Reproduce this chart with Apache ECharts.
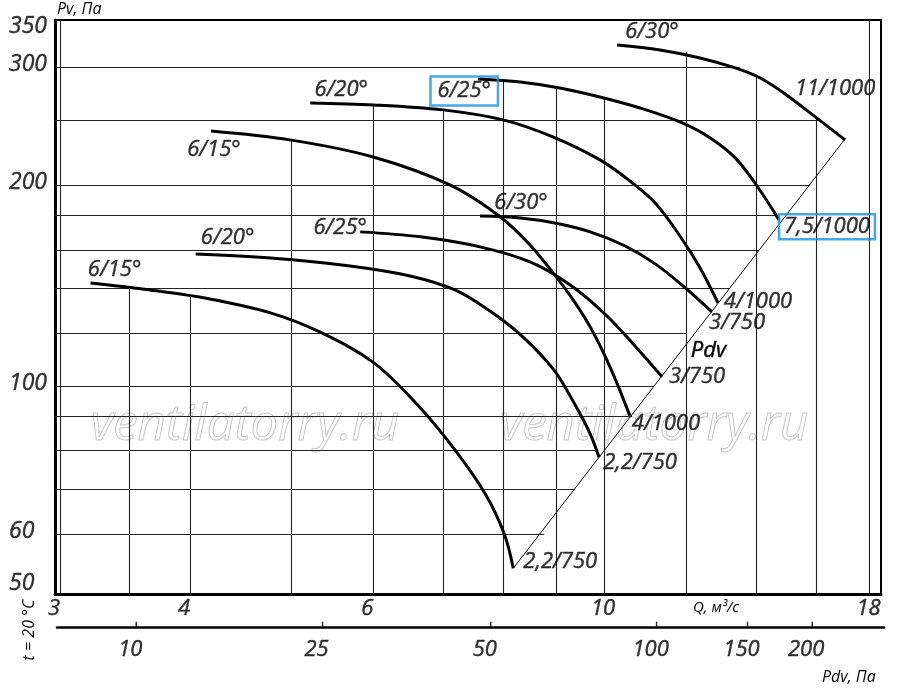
<!DOCTYPE html>
<html>
<head>
<meta charset="utf-8">
<title>Pv - Q</title>
<script src="https://cdn.jsdelivr.net/npm/echarts@6/dist/echarts.min.js"></script>
<style>
  html, body { margin: 0; padding: 0; background: #fff; }
  #main { width: 900px; height: 690px; }
</style>
</head>
<body>
<div id="main"></div>
<script>
// Q, м3/с and Pv, Па, one pair of arrays per curve
var qA = [3.21, 3.66, 4.18, 4.78, 5.33, 6.01, 6.66, 7.19, 7.69, 8.02, 8.18];
var pA = [142.7, 139.3, 135.0, 128.7, 120.5, 108.3, 92.7, 80.2, 68.9, 60.0, 53.3];
var qB = [4.05, 4.78, 5.70, 6.51, 7.19, 7.77, 8.36, 8.95, 9.38, 9.70, 9.89];
var pB = [157.7, 155.5, 151.3, 146.2, 139.3, 129.5, 118.4, 105.7, 93.7, 84.7, 78.2];
var qC = [5.83, 6.66, 7.60, 8.49, 9.28, 10.02, 10.71, 11.37];
var pC = [170.2, 167.3, 161.6, 153.4, 141.7, 128.2, 114.8, 103.2];
var qD = [7.60, 8.31, 8.97, 9.70, 10.48, 11.20, 11.97, 12.70];
var pD = [179.8, 178.6, 175.5, 170.2, 162.1, 152.4, 140.3, 129.1];
var qE = [4.19, 4.99, 6.00, 7.11, 7.95, 8.49, 9.01, 9.34, 9.70, 10.00, 10.29, 10.59];
var pE = [241.1, 233.8, 220.4, 200.1, 179.2, 162.7, 145.2, 134.6, 122.6, 111.7, 101.0, 90.2];
var qF = [5.22, 6.01, 7.00, 8.00, 8.93, 9.91, 10.59, 11.20, 11.83, 12.37, 12.87];
var pF = [265.6, 263.8, 259.3, 250.5, 236.2, 218.2, 202.9, 188.1, 167.8, 150.3, 133.2];
var qG = [7.57, 8.31, 9.07, 9.91, 10.83, 11.83, 12.65, 13.37, 14.03, 14.73];
var pG = [288.5, 285.6, 279.7, 271.1, 261.0, 248.7, 235.4, 219.7, 199.4, 177.4];
var qH = [10.29, 11.32, 12.37, 13.37, 14.13, 14.93, 15.96, 17.05];
var pH = [324.5, 318.9, 310.2, 299.7, 289.5, 274.0, 253.1, 233.8];

var startNames = ['6/15°', '6/20°', '6/25°', '6/30°', '6/15°', '6/20°', '6/25°', '6/30°'];
var endNames = ['2,2/750', '2,2/750', '3/750', '3/750', '4/1000', '4/1000', '7,5/1000', '11/1000'];

// Pdv line (system line through the curve ends)
var qPdv = [8.18, 17.05];
var pPdv = [53.3, 234.6];

// grid lines: verticals run up from the bottom, horizontals run right from the left edge
var vGridQ = [3, 3.5, 4, 5, 6, 7, 8, 9, 10, 12, 14, 16, 18];
var vGridTop = [353.6, 140, 137, 234, 264, 259, 287, 279, 270, 317, 292, 251, 353.6];
var hGridPv = [60, 70, 80, 90, 100, 120, 140, 160, 180, 200, 250, 300];
var hGridEnd = [8.76, 9.38, 9.87, 10.64, 11.17, 12.0, 13.2, 14.1, 14.64, 15.77, 16.05, 13.5];

// tick labels
var xTicks = [3, 4, 6, 10, 18];
var yTicks = [50, 60, 100, 200, 300, 350];
var pdvTickPos = [10, 22.8, 48, 100, 149.5, 199];
var pdvTickLabels = ['10', '25', '50', '100', '150', '200'];

var X_MIN = 2.967, X_MAX = 18.46, Y_MIN = 48.66, Y_MAX = 353.6;
var PDV_MIN = 7.04, PDV_MAX = 273.5;

var curveQ = [qA, qB, qC, qD, qE, qF, qG, qH];
var curvePv = [pA, pB, pC, pD, pE, pF, pG, pH];

// label placement relative to the curve ends, pixels
var startOffset = [[24, -13], [32, -16], [-20, -4], [41, -13], [3, 19], [31, -13], [-14, 12], [35, -13]];
var endOffset = [[47, -7], [41, 6], [35, 0], [25, 11], [36, 8], [40, -1], [48, 7], [-10, -51]];
var boxedCurve = 6;
var BLUE = '#1a8fe0';
var FONT = 'Open Sans';

function txt(size) {
    return { fontFamily: FONT, fontStyle: 'italic', fontSize: size, color: '#000',
             textBorderColor: '#000', textBorderWidth: 0.4 };
}

var series = [];

// grid lines + Pdv line
var gridLines = [];
for (var i = 0; i < vGridQ.length; i++) {
    gridLines.push([{ coord: [vGridQ[i], Y_MIN] }, { coord: [vGridQ[i], vGridTop[i]] }]);
}
for (i = 0; i < hGridPv.length; i++) {
    gridLines.push([{ coord: [X_MIN, hGridPv[i]] }, { coord: [hGridEnd[i], hGridPv[i]] }]);
}

series.push({
    name: 'Pdv',
    type: 'line',
    data: qPdv.map(function (q, k) { return [q, pPdv[k]]; }),
    symbol: 'none',
    lineStyle: { color: '#000', width: 1 },
    silent: true,
    z: 3,
    markLine: {
        silent: true,
        symbol: ['none', 'none'],
        label: { show: false },
        lineStyle: { color: '#222', width: 1.1, type: 'solid' },
        emphasis: { disabled: true },
        data: gridLines
    },
    markPoint: {
        silent: true,
        symbol: 'circle',
        symbolSize: 0,
        data: [{ coord: [12.6, 113], value: 0 }],
        label: Object.assign({ show: true, formatter: 'Pdv', position: 'inside' }, txt(22))
    }
});

// fan curves
for (i = 0; i < curveQ.length; i++) {
    series.push({
        type: 'line',
        data: curveQ[i].map(function (q, k) { return [q, this[k]]; }, curvePv[i]),
        smooth: 0.35,
        symbol: 'none',
        lineStyle: { color: '#000', width: 3 },
        silent: true,
        z: 5
    });
}

// curve labels at both ends
var labelData = [];
for (i = 0; i < curveQ.length; i++) {
    var n = curveQ[i].length - 1;
    var lbS = Object.assign({ show: true, formatter: startNames[i], position: 'inside', offset: startOffset[i] }, txt(22));
    var lbE = Object.assign({ show: true, formatter: endNames[i], position: 'inside', offset: endOffset[i] }, txt(22));
    if (i === boxedCurve) {
        Object.assign(lbS, { borderColor: BLUE, borderWidth: 2.5, padding: [4, 7, 3, 7] });
        Object.assign(lbE, { borderColor: BLUE, borderWidth: 2.5, padding: [2, 5, 1, 5] });
    }
    labelData.push({ value: [curveQ[i][0], curvePv[i][0]], label: lbS });
    labelData.push({ value: [curveQ[i][n], curvePv[i][n]], label: lbE });
}
series.push({
    type: 'scatter',
    data: labelData,
    symbolSize: 0,
    silent: true,
    clip: false,
    z: 6
});

// x tick labels
series.push({
    type: 'scatter',
    data: xTicks.map(function (v) {
        return {
            value: [v, Y_MIN],
            label: Object.assign({ show: true, formatter: String(v), position: 'bottom', distance: 3,
                offset: [String(v).length > 1 ? -1 : -6, 0] }, txt(22))
        };
    }),
    symbolSize: 0,
    silent: true,
    clip: false
});

// y tick labels
series.push({
    type: 'scatter',
    data: yTicks.map(function (v) {
        return {
            value: [X_MIN, v],
            label: Object.assign({ show: true, formatter: String(v), position: 'left', distance: 46,
                align: 'left', verticalAlign: 'middle', offset: [0, v === 350 ? 3 : -3] }, txt(23))
        };
    }),
    symbolSize: 0,
    silent: true,
    clip: false
});

// Pdv scale ticks
series.push({
    type: 'scatter',
    xAxisIndex: 1,
    yAxisIndex: 1,
    data: pdvTickPos.map(function (v, k) {
        return {
            value: [v, 0],
            label: Object.assign({ show: true, formatter: pdvTickLabels[k], position: 'bottom', distance: 11,
                offset: [-6, 0] }, txt(22))
        };
    }),
    symbol: 'rect',
    symbolSize: [1.5, 6],
    symbolOffset: [0, -3],
    itemStyle: { color: '#000' },
    silent: true,
    clip: false
});

var myChart = echarts.init(document.getElementById('main'));

var option = {
    animation: false,
    backgroundColor: '#fff',
    grid: [
        { left: 55, right: 19, top: 20, bottom: 95.3, show: true, borderColor: '#000', borderWidth: 2 },
        { left: 57, right: 16, top: 612, height: 15.7 }
    ],
    xAxis: [
        {
            type: 'log', gridIndex: 0, min: X_MIN, max: X_MAX,
            axisLine: { show: true, onZero: false, lineStyle: { color: '#000', width: 3 } },
            axisTick: { show: false }, axisLabel: { show: false }, splitLine: { show: false }
        },
        {
            type: 'log', gridIndex: 1, min: PDV_MIN, max: PDV_MAX,
            axisLine: { show: true, onZero: false, lineStyle: { color: '#000', width: 2.5 } },
            axisTick: { show: false }, axisLabel: { show: false }, splitLine: { show: false }
        }
    ],
    yAxis: [
        {
            type: 'log', gridIndex: 0, min: Y_MIN, max: Y_MAX,
            axisLine: { show: true, onZero: false, lineStyle: { color: '#000', width: 3 } },
            axisTick: { show: false }, axisLabel: { show: false }, splitLine: { show: false }
        },
        { type: 'value', gridIndex: 1, min: 0, max: 1, show: false }
    ],
    graphic: [
        { type: 'text', x: 245, y: 426, silent: true, z: 1,
          style: { text: 'ventilatorry.ru', font: 'italic 49px "Open Sans"', fill: 'none', stroke: '#c8c8c8', lineWidth: 1, align: 'center', verticalAlign: 'middle' } },
        { type: 'text', x: 654, y: 426, silent: true, z: 1,
          style: { text: 'ventilatorry.ru', font: 'italic 49px "Open Sans"', fill: 'none', stroke: '#c8c8c8', lineWidth: 1, align: 'center', verticalAlign: 'middle' } },
        { type: 'text', x: 57, y: 1, silent: true,
          style: { text: 'Pv, Па', font: 'italic 16px "Open Sans"', fill: '#000' } },
        { type: 'text', x: 693, y: 600, silent: true,
          style: { text: 'Q, м³/с', font: 'italic 15px "Open Sans"', fill: '#000' } },
        { type: 'text', x: 822, y: 669, silent: true,
          style: { text: 'Pdv, Па', font: 'italic 16px "Open Sans"', fill: '#000' } },
        { type: 'text', x: 29, y: 630, rotation: Math.PI / 2, silent: true,
          style: { text: 't = 20 °C', font: 'italic 16px "Open Sans"', fill: '#000', align: 'center', verticalAlign: 'middle' } }
    ],
    series: series
};

myChart.setOption(option);
</script>
</body>
</html>
